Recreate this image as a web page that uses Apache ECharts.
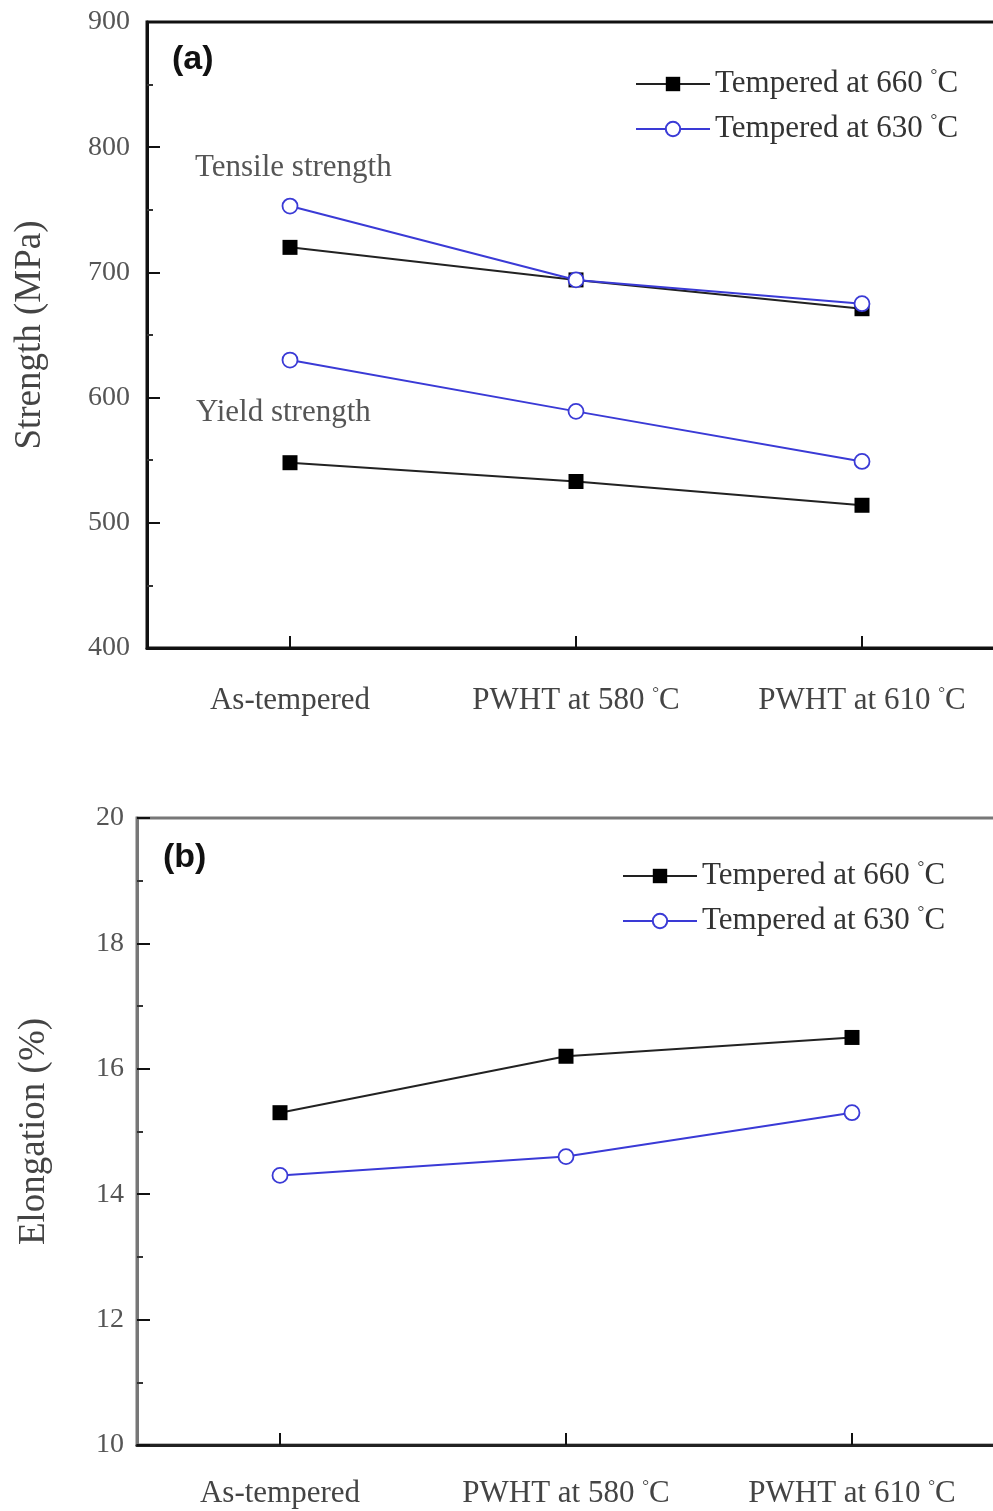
<!DOCTYPE html>
<html><head><meta charset="utf-8">
<script src="https://cdn.jsdelivr.net/npm/echarts@6/dist/echarts.min.js"></script>
<style>html,body{margin:0;padding:0;background:#fff}#c{width:993px;height:1511px}</style>
</head><body><div id="c"></div>
<script>
const categories = ['As-tempered', 'PWHT at 580 °C', 'PWHT at 610 °C'];
const seriesNames = ['Tempered at 660 °C', 'Tempered at 630 °C'];
const tensile660 = [720, 694, 671];
const tensile630 = [753, 694, 675];
const yield660 = [548, 533, 514];
const yield630 = [630, 589, 549];
const elong660 = [15.3, 16.2, 16.5];
const elong630 = [14.3, 14.6, 15.3];
const strengthTicks = {min: 400, max: 900, interval: 100};
const elongTicks = {min: 10, max: 20, interval: 2};

const SERIF = '"Liberation Serif", "DejaVu Serif", serif';
const BLACK = '#111';
const BLUE = '#3a3ad6';
const degStyle = {fontSize: 17, verticalAlign: 'top', padding: [0, 0, 12, 0], fontFamily: SERIF, color: '#444'};

function catFmt(v) { return v.replace(' °C', ' {d|°}C'); }

function mkSeries(name, data, xi, filled) {
  return {
    name, type: 'line', data, xAxisIndex: xi, yAxisIndex: xi,
    symbol: filled ? 'rect' : 'circle', symbolSize: 15,
    lineStyle: {color: filled ? '#222' : BLUE, width: 2},
    itemStyle: filled ? {color: '#000', borderColor: '#000', borderWidth: 0} : {color: '#fff', borderColor: BLUE, borderWidth: 1.8},
    color: filled ? '#000' : BLUE,
    z: filled ? 3 : 4
  };
}

function xAxis(gi, lineColor, margin) {
  return {
    type: 'category', gridIndex: gi, data: categories, boundaryGap: true,
    axisLine: {show: true, lineStyle: {color: lineColor, width: 3}},
    axisTick: {show: true, inside: true, alignWithLabel: true, length: 12, lineStyle: {color: '#111', width: 2}},
    axisLabel: {show: true, interval: 0, margin, fontFamily: SERIF, fontSize: 31, color: '#444', formatter: catFmt, rich: {d: degStyle}},
    splitLine: {show: false}
  };
}
function yAxis(gi, t, name, nameGap, labelMargin, lineColor) {
  return {
    type: 'value', gridIndex: gi, min: t.min, max: t.max, interval: t.interval,
    name, nameLocation: 'middle', nameGap, nameRotate: 90,
    nameTextStyle: {fontFamily: SERIF, fontSize: 37, color: '#444'},
    axisLine: {show: true, lineStyle: {color: lineColor, width: 3}},
    axisTick: {show: true, inside: true, length: 13, lineStyle: {color: '#111', width: 2}},
    minorTick: {show: true, splitNumber: 2, length: 6, lineStyle: {color: '#333', width: 2}},
    axisLabel: {show: true, margin: labelMargin, fontFamily: SERIF, fontSize: 28, color: '#555'},
    splitLine: {show: false}
  };
}
function legend(left, top) {
  return {
    data: seriesNames, orient: 'vertical', left, top,
    itemWidth: 74, itemHeight: 18, itemGap: 11,
    textStyle: {fontFamily: SERIF, fontSize: 31, color: '#333', lineHeight: 34,
      rich: {d: {fontSize: 17, verticalAlign: 'top', padding: [0, 0, 12, 0], fontFamily: SERIF, color: '#333'}}},
    formatter: n => n.replace(' °C', ' {d|°}C'),
    selectedMode: false
  };
}

const chart = echarts.init(document.getElementById('c'), null, {renderer: 'canvas'});
chart.setOption({
  animation: false,
  backgroundColor: '#fff',
  grid: [
    {left: 147, top: 22, width: 858, height: 626, show: true, borderColor: BLACK, borderWidth: 3, outerBoundsMode: 'none', containLabel: false},
    {left: 137, top: 818, width: 858, height: 627, show: true, borderColor: '#777', borderWidth: 3, outerBoundsMode: 'none', containLabel: false}
  ],
  xAxis: [xAxis(0, BLACK, 37), xAxis(1, '#222', 33)],
  yAxis: [yAxis(0, strengthTicks, 'Strength (MPa)', 98, 17, BLACK), yAxis(1, elongTicks, 'Elongation (%)', 84, 13, '#777')],
  legend: [legend(630, 62), legend(617, 854)],
  series: [
    mkSeries(seriesNames[0], tensile660, 0, true),
    mkSeries(seriesNames[1], tensile630, 0, false),
    mkSeries(seriesNames[0], yield660, 0, true),
    mkSeries(seriesNames[1], yield630, 0, false),
    mkSeries(seriesNames[0], elong660, 1, true),
    mkSeries(seriesNames[1], elong630, 1, false)
  ],
  graphic: [
    {type: 'text', left: 172, top: 43, style: {text: '(a)', font: 'bold 34px "Liberation Sans", Arial, sans-serif', fill: '#111'}},
    {type: 'text', left: 163, top: 841, style: {text: '(b)', font: 'bold 34px "Liberation Sans", Arial, sans-serif', fill: '#111'}},
    {type: 'text', left: 195, top: 152, style: {text: 'Tensile strength', font: '31px "Liberation Serif", serif', fill: '#555'}},
    {type: 'text', left: 196, top: 397, style: {text: 'Yield strength', font: '31px "Liberation Serif", serif', fill: '#555'}}
  ]
});
</script></body></html>
